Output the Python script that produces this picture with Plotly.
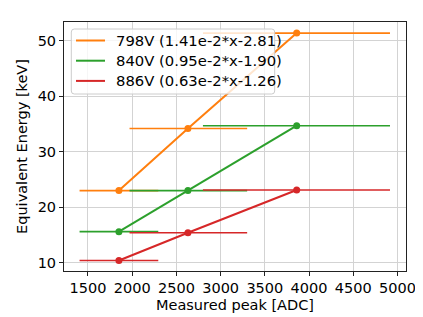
import plotly.graph_objects as go

# Data
peaks = [1850, 2630, 3860]             # measured peak [ADC]
err_minus = [445, 660, 1060]           # horizontal error (left)
err_plus = [445, 670, 1055]            # horizontal error (right)
labels = ["798V (1.41e-2*x-2.81)", "840V (0.95e-2*x-1.90)", "886V (0.63e-2*x-1.26)"]
energy_798 = [23.0, 34.2, 51.4]
energy_840 = [15.6, 23.0, 34.7]
energy_886 = [10.4, 15.4, 23.1]
series = [energy_798, energy_840, energy_886]
colors = ["#ff7f0e", "#2ca02c", "#d62728"]

x_ticks = [1500, 2000, 2500, 3000, 3500, 4000, 4500, 5000]
y_ticks = [10, 20, 30, 40, 50]

W, H = 423, 317
ML, MR, MT, MB = 56, 25, 14, 54
PW, PH = W - ML - MR, H - MT - MB


def px(xp):
    return (xp - ML) / PW


def py(yp):
    return 1 - (yp - MT) / PH


fig = go.Figure()
for ys, c in zip(series, colors):
    fig.add_trace(go.Scatter(
        x=peaks, y=ys, mode="lines+markers",
        line=dict(color=c, width=2),
        marker=dict(color=c, size=7),
        error_x=dict(type="data", symmetric=False, array=err_plus, arrayminus=err_minus,
                     color=c, thickness=1.6, width=0),
        showlegend=False, hoverinfo="skip"))

font = dict(family="DejaVu Sans", size=14.5, color="black")
legend_font = dict(family="DejaVu Sans", size=14.8, color="black")

# custom legend box (rounded)
x0, x1, y0, y1 = px(63.3), px(266.7), py(86), py(21)
rx, ry = 3 / PW, 3 / PH
path = (f"M {x0+rx},{y1} L {x1-rx},{y1} Q {x1},{y1} {x1},{y1-ry} "
        f"L {x1},{y0+ry} Q {x1},{y0} {x1-rx},{y0} L {x0+rx},{y0} "
        f"Q {x0},{y0} {x0},{y0+ry} L {x0},{y1-ry} Q {x0},{y1} {x0+rx},{y1} Z")
shapes = [dict(type="path", xref="paper", yref="paper", path=path,
               fillcolor="rgba(255,255,255,0.8)", line=dict(color="#cccccc", width=1),
               layer="above")]
annotations = []
for i, (c, lab) in enumerate(zip(colors, labels)):
    yy = py(32.5 + 20.2 * i)
    shapes.append(dict(type="line", xref="paper", yref="paper",
                       x0=px(68), x1=px(97), y0=yy, y1=yy,
                       line=dict(color=c, width=2), layer="above"))
    annotations.append(dict(xref="paper", yref="paper", x=px(106.5), y=yy,
                            xanchor="left", yanchor="middle", text=lab,
                            showarrow=False, font=legend_font, borderpad=0))

axis_common = dict(showgrid=True, gridcolor="#d3d3d3", gridwidth=1,
                   showline=True, linecolor="#222", linewidth=1, mirror=True,
                   ticks="outside", ticklen=4, tickcolor="#222", zeroline=False,
                   tickfont=font)
fig.update_layout(
    width=W, height=H,
    margin=dict(l=ML, r=MR, t=MT, b=MB),
    paper_bgcolor="white", plot_bgcolor="white",
    font=font, showlegend=False,
    xaxis=dict(range=[1229, 5096], tickvals=x_ticks,
               title=dict(text="Measured peak [ADC]", font=font, standoff=4), **axis_common),
    yaxis=dict(range=[8.5, 53.4], tickvals=y_ticks,
               title=dict(text="Equivalent Energy [keV]", font=font, standoff=6), **axis_common),
    shapes=shapes, annotations=annotations,
)
fig.write_html("out.html")
